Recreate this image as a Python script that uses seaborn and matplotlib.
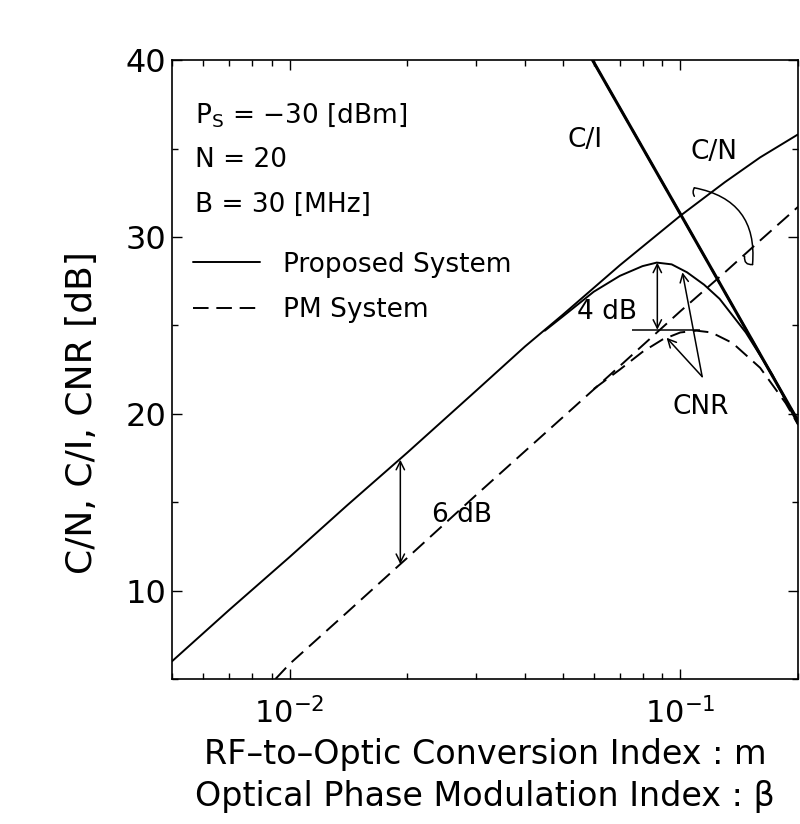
import matplotlib
matplotlib.use("Agg")
import matplotlib.pyplot as plt
from matplotlib.ticker import MultipleLocator, LogLocator, NullFormatter
import seaborn as sns
import numpy as np

# ---- data ----
prop_cn_x = [0.005, 0.007, 0.01, 0.014, 0.02, 0.03, 0.04, 0.05, 0.07, 0.1, 0.13, 0.16, 0.2]
prop_cn_y = [6.0, 8.9, 11.9, 14.8, 17.8, 21.3, 23.8, 25.6, 28.4, 31.2, 33.1, 34.5, 35.8]

pm_cn_x = [0.0092, 0.01, 0.014, 0.02, 0.03, 0.05, 0.07, 0.1, 0.13, 0.16, 0.2]
pm_cn_y = [5.0, 5.85, 8.75, 11.85, 15.4, 19.8, 22.7, 25.8, 28.0, 29.8, 31.7]

ci_x = [0.0596, 0.1, 0.2]
ci_y = [40.0, 31.3, 19.6]

prop_cnr_x = [0.045, 0.05, 0.06, 0.07, 0.08, 0.087, 0.095, 0.104, 0.115, 0.126, 0.147, 0.172, 0.2]
prop_cnr_y = [24.7, 25.5, 26.9, 27.8, 28.35, 28.55, 28.45, 28.0, 27.3, 26.5, 24.6, 22.2, 19.4]

pm_cnr_x = [0.06, 0.07, 0.08, 0.09, 0.1, 0.11, 0.12, 0.136, 0.16, 0.186, 0.2]
pm_cnr_y = [21.4, 22.5, 23.5, 24.2, 24.6, 24.7, 24.6, 24.0, 22.6, 20.6, 19.4]

legend_labels = ["Proposed System", "PM System"]
param_texts = ["P$_{\\mathrm{S}}$ = \u221230 [dBm]", "N = 20", "B = 30 [MHz]"]
y_ticks = [10, 20, 30, 40]

sns.set_theme(style="ticks")
plt.rcParams["font.family"] = ["DejaVu Sans"]
plt.rcParams["mathtext.fontset"] = "dejavusans"
plt.rcParams["text.color"] = "black"

fig = plt.figure(figsize=(8, 8.24), dpi=100)
ax = fig.add_axes([0.215, 0.176, 0.7825, 0.751])

LW = 1.4
DASH = (8, 4)

def draw(x, y, dashed=False, lw=LW, label=None):
    sns.lineplot(x=x, y=y, ax=ax, color="black", linewidth=lw,
                 estimator=None, sort=True, label=label, legend=False)
    ln = ax.lines[-1]
    if dashed:
        ln.set_dashes(DASH)
    return ln

h_prop = draw(prop_cn_x, prop_cn_y, label=legend_labels[0])
h_pm = draw(pm_cn_x, pm_cn_y, dashed=True, label=legend_labels[1])
draw(ci_x, ci_y, lw=2.2)
draw(ci_x, ci_y, dashed=True, lw=1.6)
draw(prop_cnr_x, prop_cnr_y)
draw(pm_cnr_x, pm_cnr_y, dashed=True)

ax.set_xscale("log")
ax.set_xlim(0.005, 0.2)
ax.set_ylim(5, 40)
ax.set_yticks(y_ticks)
ax.yaxis.set_minor_locator(MultipleLocator(5))
ax.xaxis.set_major_locator(LogLocator(base=10, numticks=10))
ax.xaxis.set_minor_locator(LogLocator(base=10, subs=np.arange(2, 10), numticks=20))
ax.xaxis.set_minor_formatter(NullFormatter())

for s in ax.spines.values():
    s.set_linewidth(1.2)
    s.set_color("black")
ax.tick_params(which="both", direction="in", top=True, right=True,
               color="black", width=1.0, labelcolor="black")
ax.tick_params(which="major", length=7)
ax.tick_params(which="minor", length=4)
ax.tick_params(axis="x", which="major", pad=13, labelsize=22)
ax.tick_params(axis="y", which="major", pad=4, labelsize=23)

ax.set_ylabel("C/N, C/I, CNR [dB]", fontsize=26, color="black")
ax.yaxis.set_label_coords(-0.117, 0.431)
ax.set_xlabel("RF\u2013to\u2013Optic Conversion Index : m\nOptical Phase Modulation Index : \u03b2",
              fontsize=24, labelpad=6, linespacing=1.35, color="black")

FS = 19
# parameter texts
for i, t in enumerate(param_texts):
    ax.text(0.037, 0.911 - i * 0.0725, t, transform=ax.transAxes,
            fontsize=FS, va="center", ha="left", color="black")

leg = ax.legend(handles=[h_prop, h_pm], labels=legend_labels, loc="upper left",
                bbox_to_anchor=(0.0335, 0.6905), frameon=False, fontsize=FS,
                handlelength=2.55, handletextpad=0.87, labelspacing=0.75,
                borderaxespad=0, borderpad=0, labelcolor="black")

# curve labels
ax.text(0.0569, 35.5, "C/I", fontsize=FS, ha="center", va="center", color="black")
ax.text(0.1222, 34.8, "C/N", fontsize=FS, ha="center", va="center", color="black")
ax.text(0.0775, 25.75, "4 dB", fontsize=FS, ha="right", va="center", color="black")
ax.text(0.113, 20.4, "CNR", fontsize=FS, ha="center", va="center", color="black")
ax.text(0.0232, 14.3, "6 dB", fontsize=FS, ha="left", va="center", color="black")

arrow_kw = dict(arrowstyle="<->", color="black", lw=1.1, shrinkA=0, shrinkB=0,
                mutation_scale=15)
ax.annotate("", xy=(0.0192, 17.4), xytext=(0.0192, 11.5), arrowprops=arrow_kw)
ax.annotate("", xy=(0.0873, 28.55), xytext=(0.0873, 24.75), arrowprops=arrow_kw)
ax.hlines(24.75, 0.075, 0.112, color="black", lw=1.1)

pt_kw = dict(arrowstyle="->", color="black", lw=1.1, shrinkA=0, shrinkB=0,
             mutation_scale=15)
ax.annotate("", xy=(0.1012, 28.0), xytext=(0.1137, 22.1), arrowprops=pt_kw)
ax.annotate("", xy=(0.0922, 24.3), xytext=(0.1137, 22.1), arrowprops=pt_kw)

# C/N loop
loop_kw = dict(arrowstyle="-", color="black", lw=1.1, shrinkA=0, shrinkB=0)
ax.annotate("", xy=(0.1530, 28.44), xytext=(0.1086, 32.78),
            arrowprops=dict(loop_kw, connectionstyle="arc3,rad=-0.45"))
ax.annotate("", xy=(0.146, 28.9), xytext=(0.1530, 28.44),
            arrowprops=dict(loop_kw, connectionstyle="arc3,rad=-0.6"))
ax.annotate("", xy=(0.1086, 32.3), xytext=(0.1086, 32.78),
            arrowprops=dict(loop_kw, connectionstyle="arc3,rad=0.3"))

fig.savefig("out.png", dpi=100, facecolor="white")
